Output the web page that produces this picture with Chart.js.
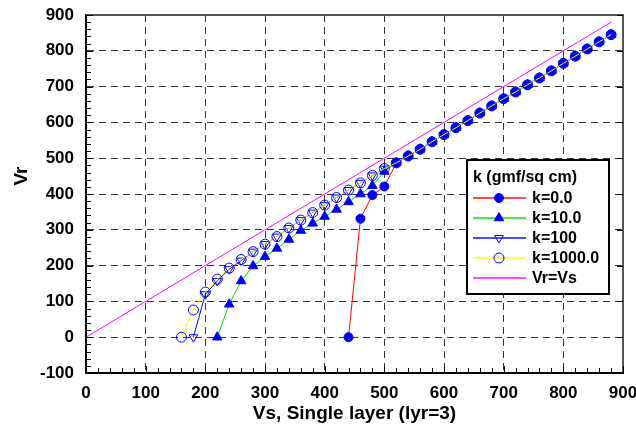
<!DOCTYPE html>
<html>
<head>
<meta charset="utf-8">
<script src="https://cdn.jsdelivr.net/npm/chart.js@4.4.1/dist/chart.umd.min.js"></script>
<style>
  html, body { margin: 0; padding: 0; background: #ffffff; }
  #wrap { width: 636px; height: 435px; position: relative; }
</style>
</head>
<body>
<div id="wrap"><canvas id="vrChart" width="636" height="435"></canvas></div>
<script>
// x values (Vs) for each k series
const vsK0 = [440, 460, 480, 500, 520, 540, 560, 580, 600, 620, 640, 660, 680, 700, 720, 740, 760, 780, 800, 820, 840, 860, 880];
const vsK10 = [220, 240, 260, 280, 300, 320, 340, 360, 380, 400, 420, 440, 460, 480, 500, 520, 540, 560, 580, 600, 620, 640, 660, 680, 700, 720, 740, 760, 780, 800, 820, 840, 860, 880];
const vsK100 = [180, 200, 220, 240, 260, 280, 300, 320, 340, 360, 380, 400, 420, 440, 460, 480, 500, 520, 540, 560, 580, 600, 620, 640, 660, 680, 700, 720, 740, 760, 780, 800, 820, 840, 860, 880];
const vsK1000 = [160, 180, 200, 220, 240, 260, 280, 300, 320, 340, 360, 380, 400, 420, 440, 460, 480, 500, 520, 540, 560, 580, 600, 620, 640, 660, 680, 700, 720, 740, 760, 780, 800, 820, 840, 860, 880];

// Vr values (all series share the same values from Vs=520 on)
const vrTail = [487, 506, 525, 546, 566, 585, 605, 626, 646, 666, 685, 705, 724, 744, 765, 785, 805, 825, 845];
const vrK0 = [0, 331, 397, 421].concat(vrTail);
const vrK10 = [0, 92, 157, 199, 225, 248, 273, 298, 318, 337, 357, 378, 400, 423, 463].concat(vrTail);
const vrK100 = [0, 120, 157, 190, 214, 239, 260, 281, 305, 327, 348, 369, 390, 411, 431, 452, 471].concat(vrTail);
const vrK1000 = [0, 76, 126, 162, 193, 217, 239, 260, 281, 305, 327, 348, 369, 390, 411, 431, 452, 471].concat(vrTail);

// reference line Vr = Vs
const vsRef = [0, 880];
const vrRef = [0, 880];

const seriesLabels = ['k=0.0', 'k=10.0', 'k=100', 'k=1000.0', 'Vr=Vs'];
const legendTitle = 'k (gmf/sq cm)';

const xTickValues = [0, 100, 200, 300, 400, 500, 600, 700, 800, 900];
const yTickValues = [-100, 0, 100, 200, 300, 400, 500, 600, 700, 800, 900];

const FONT = '"Liberation Sans", Arial, sans-serif';

function toPoints(xs, ys) {
  return xs.map((x, i) => ({ x: x, y: ys[i] }));
}

// small marker painter for the legend box
function paintMarker(ctx, ds, cx, cy) {
  const r = ds.pointRadius;
  if (!r) return;
  ctx.beginPath();
  if (ds.pointStyle === 'circle') {
    ctx.arc(cx, cy, r, 0, Math.PI * 2);
  } else {
    const rot = (ds.pointRotation || 0) * Math.PI / 180;
    for (let i = 0; i < 3; i++) {
      const a = rot + i * 2 * Math.PI / 3;
      const px = cx + Math.sin(a) * r;
      const py = cy - Math.cos(a) * r;
      if (i === 0) ctx.moveTo(px, py); else ctx.lineTo(px, py);
    }
    ctx.closePath();
  }
  ctx.fillStyle = ds.pointBackgroundColor;
  ctx.fill();
  ctx.lineWidth = ds.pointBorderWidth;
  ctx.strokeStyle = ds.pointBorderColor;
  ctx.stroke();
}

// no extra room for overhanging labels, the layout padding takes care of it
function noScalePadding(scale) {
  scale.paddingLeft = 0;
  scale.paddingRight = 0;
  scale.paddingTop = 0;
  scale.paddingBottom = 0;
}

const frameAndLegend = {
  id: 'frameAndLegend',
  afterDraw(chart) {
    const { ctx, chartArea: a, scales } = chart;
    const xs = scales.x, ys = scales.y;
    ctx.save();

    // top and right frame
    ctx.strokeStyle = '#555555';
    ctx.lineWidth = 2;
    ctx.beginPath();
    ctx.moveTo(a.left, a.top);
    ctx.lineTo(a.right, a.top);
    ctx.lineTo(a.right, a.bottom);
    ctx.stroke();

    // left and bottom axes
    ctx.strokeStyle = '#000000';
    ctx.beginPath();
    ctx.moveTo(a.left, a.top);
    ctx.lineTo(a.left, a.bottom);
    ctx.lineTo(a.right, a.bottom);
    ctx.stroke();

    // inner tick marks every 20 units
    ctx.lineWidth = 1;
    ctx.beginPath();
    for (let v = 0; v <= 900; v += 20) {
      const px = Math.round(xs.getPixelForValue(v)) + 0.5;
      const len = v % 100 === 0 ? 7 : 5;
      ctx.moveTo(px, a.bottom);
      ctx.lineTo(px, a.bottom - len);
    }
    for (let v = -100; v <= 900; v += 20) {
      const py = Math.round(ys.getPixelForValue(v)) + 0.5;
      const len = v % 100 === 0 ? 7 : 5;
      ctx.moveTo(a.left, py);
      ctx.lineTo(a.left + len, py);
      if (v % 100 === 0) {
        ctx.moveTo(a.right, py);
        ctx.lineTo(a.right - 6, py);
      }
    }
    ctx.stroke();

    // y axis title
    ctx.fillStyle = '#000000';
    ctx.font = 'bold 19px ' + FONT;
    ctx.textAlign = 'center';
    ctx.textBaseline = 'middle';
    ctx.translate(22, 176);
    ctx.rotate(-Math.PI / 2);
    ctx.fillText('Vr', 0, 0);
    ctx.setTransform(1, 0, 0, 1, 0, 0);

    // legend box
    const bx = 467, by = 160, bw = 142, bh = 134;
    ctx.fillStyle = '#ffffff';
    ctx.fillRect(bx, by, bw, bh);
    ctx.strokeStyle = '#000000';
    ctx.lineWidth = 2;
    ctx.strokeRect(bx, by, bw, bh);

    ctx.fillStyle = '#000000';
    ctx.font = 'bold 16px ' + FONT;
    ctx.textAlign = 'left';
    ctx.textBaseline = 'middle';
    ctx.fillText(legendTitle, bx + 6, by + 18);

    chart.data.datasets.forEach((ds, i) => {
      const rowY = by + 38 + i * 20;
      ctx.strokeStyle = ds.borderColor;
      ctx.lineWidth = 2;
      ctx.globalAlpha = 0.7;
      ctx.beginPath();
      ctx.moveTo(bx + 6, rowY);
      ctx.lineTo(bx + 59, rowY);
      ctx.stroke();
      ctx.globalAlpha = 1;
      paintMarker(ctx, ds, bx + 32, rowY);
      ctx.fillStyle = '#000000';
      ctx.fillText(ds.label, bx + 65, rowY + 1);
    });

    ctx.restore();
  }
};

const markerBlue = '#0000ff';

const ctx = document.getElementById('vrChart').getContext('2d');
new Chart(ctx, {
  type: 'scatter',
  data: {
    datasets: [
      {
        label: seriesLabels[0],
        data: toPoints(vsK0, vrK0),
        showLine: true,
        borderColor: '#ff0000',
        borderWidth: 1,
        pointStyle: 'circle',
        pointRadius: 4.5,
        pointBackgroundColor: markerBlue,
        pointBorderColor: markerBlue,
        pointBorderWidth: 1,
        order: 4
      },
      {
        label: seriesLabels[1],
        data: toPoints(vsK10, vrK10),
        showLine: true,
        borderColor: '#00dd00',
        borderWidth: 1,
        pointStyle: 'triangle',
        pointRadius: 5.5,
        pointBackgroundColor: markerBlue,
        pointBorderColor: markerBlue,
        pointBorderWidth: 1,
        order: 3
      },
      {
        label: seriesLabels[2],
        data: toPoints(vsK100, vrK100),
        showLine: true,
        borderColor: '#0000ff',
        borderWidth: 1,
        pointStyle: 'triangle',
        pointRotation: 180,
        pointRadius: 5,
        pointBackgroundColor: 'rgba(255,255,255,0)',
        pointBorderColor: markerBlue,
        pointBorderWidth: 1,
        order: 2
      },
      {
        label: seriesLabels[3],
        data: toPoints(vsK1000, vrK1000),
        showLine: true,
        borderColor: '#ffff00',
        borderWidth: 1,
        pointStyle: 'circle',
        pointRadius: 5,
        pointBackgroundColor: 'rgba(255,255,255,0)',
        pointBorderColor: markerBlue,
        pointBorderWidth: 1,
        order: 1
      },
      {
        label: seriesLabels[4],
        data: toPoints(vsRef, vrRef),
        showLine: true,
        borderColor: '#ff00ff',
        borderWidth: 1,
        pointRadius: 0,
        pointBackgroundColor: '#ff00ff',
        pointBorderColor: '#ff00ff',
        pointBorderWidth: 0,
        order: 5
      }
    ]
  },
  options: {
    responsive: false,
    animation: false,
    events: [],
    layout: { padding: { top: 15, right: 13, left: 0, bottom: 0 } },
    plugins: {
      legend: { display: false },
      tooltip: { enabled: false }
    },
    scales: {
      x: {
        type: 'linear',
        min: 0,
        max: 900,
        afterBuildTicks: (scale) => { scale.ticks = xTickValues.map(v => ({ value: v })); },
        afterFit: (scale) => { scale.height = 62; noScalePadding(scale); },
        grid: { color: '#333333', lineWidth: 1, drawTicks: false },
        border: { display: true, color: '#000000', width: 2, dash: [7, 5] },
        ticks: {
          color: '#000000',
          padding: 10,
          maxRotation: 0,
          font: { family: FONT, size: 17, weight: 'bold' }
        },
        title: {
          display: true,
          text: 'Vs, Single layer (lyr=3)',
          color: '#000000',
          padding: { top: 0, bottom: 10 },
          font: { family: FONT, size: 19, weight: 'bold' }
        }
      },
      y: {
        type: 'linear',
        min: -100,
        max: 900,
        afterBuildTicks: (scale) => { scale.ticks = yTickValues.map(v => ({ value: v })); },
        afterFit: (scale) => { scale.width = 86; noScalePadding(scale); },
        grid: { color: '#333333', lineWidth: 1, drawTicks: false },
        border: { display: true, color: '#000000', width: 2, dash: [7, 5] },
        ticks: {
          color: '#000000',
          padding: 12,
          font: { family: FONT, size: 17, weight: 'bold' }
        }
      }
    }
  },
  plugins: [frameAndLegend]
});
</script>
</body>
</html>
